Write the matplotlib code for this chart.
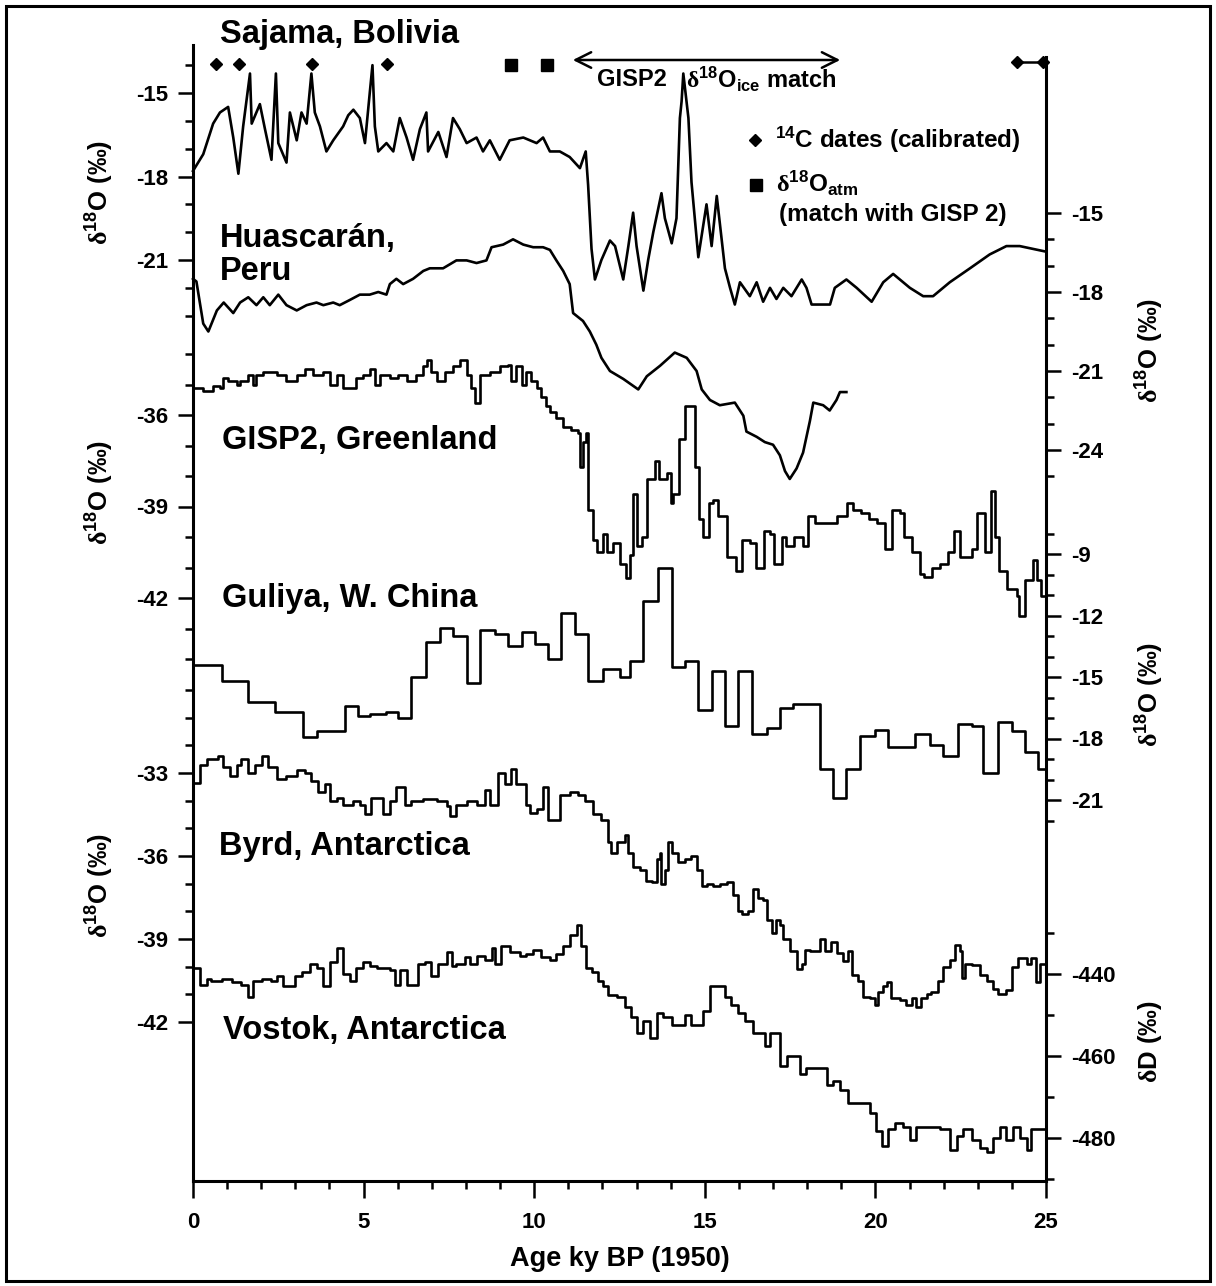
import matplotlib
matplotlib.use('Agg')
import matplotlib.pyplot as plt
import numpy as np
from matplotlib.patches import Rectangle
from matplotlib.ticker import FixedLocator

plt.rcParams['font.family'] = ['Liberation Sans', 'DejaVu Sans']
plt.rcParams['font.weight'] = 'bold'
plt.rcParams['axes.unicode_minus'] = False
plt.rcParams['mathtext.fontset'] = 'custom'
plt.rcParams['mathtext.rm'] = 'Liberation Serif'
plt.rcParams['mathtext.bf'] = 'Liberation Sans:bold'
plt.rcParams['mathtext.it'] = 'Liberation Sans:italic'
plt.rcParams['mathtext.sf'] = 'Liberation Sans:bold'

# ---- data (age ky BP, value) ----
sajama = [(0.0, -17.8), (0.30, -17.2), (0.59, -16.1), (0.79, -15.7), (1.03, -15.5), (1.18, -16.6),
          (1.33, -17.9), (1.47, -16.2), (1.67, -14.3), (1.72, -16.1), (1.96, -15.4), (2.11, -16.3),
          (2.30, -17.4), (2.43, -14.3), (2.50, -16.8), (2.74, -17.5), (2.84, -15.7), (3.04, -16.7),
          (3.18, -15.7), (3.33, -16.1), (3.47, -14.3), (3.57, -15.7), (3.72, -16.2), (3.91, -17.1),
          (4.11, -16.7), (4.40, -16.2), (4.55, -15.8), (4.70, -15.6), (4.89, -15.9), (5.04, -16.8),
          (5.18, -15.0), (5.26, -14.0), (5.33, -16.2), (5.43, -17.1), (5.67, -16.8), (5.87, -17.1),
          (6.06, -15.9), (6.26, -16.6), (6.45, -17.4), (6.65, -16.3), (6.84, -15.7), (6.89, -17.1),
          (7.19, -16.4), (7.43, -17.3), (7.62, -15.9), (7.82, -16.3), (8.02, -16.8), (8.31, -16.6),
          (8.50, -17.1), (8.70, -16.7), (8.99, -17.4), (9.28, -16.7), (9.68, -16.6), (10.07, -16.8),
          (10.26, -16.6), (10.46, -17.1), (10.75, -17.1), (11.04, -17.3), (11.34, -17.7), (11.51, -17.1),
          (11.58, -18.3), (11.68, -20.6), (11.78, -21.7), (11.97, -21.0), (12.22, -20.3), (12.37, -20.5),
          (12.61, -21.7), (12.76, -20.5), (12.90, -19.3), (13.0, -20.5), (13.2, -22.1), (13.34, -21.0),
          (13.49, -20.0), (13.73, -18.6), (13.83, -19.5), (14.03, -20.4), (14.17, -19.5), (14.27, -15.9),
          (14.32, -15.3), (14.37, -14.3), (14.52, -15.9), (14.61, -18.2), (14.81, -20.9), (15.05, -19.0),
          (15.2, -20.5), (15.35, -18.7), (15.59, -21.3), (15.74, -22.0), (15.88, -22.6), (16.03, -21.8),
          (16.32, -22.3), (16.52, -21.8), (16.71, -22.5), (16.91, -22.0), (17.1, -22.4), (17.3, -22.0),
          (17.54, -22.3), (17.84, -21.7), (17.98, -22.0), (18.13, -22.6), (18.67, -22.6), (18.81, -22.0),
          (19.15, -21.7), (19.45, -22.0), (19.89, -22.5), (20.23, -21.8), (20.52, -21.5), (21.01, -22.0),
          (21.4, -22.3), (21.69, -22.3), (22.18, -21.8), (22.77, -21.3), (23.35, -20.8), (23.84, -20.5),
          (24.23, -20.5), (25.0, -20.7)]

huascaran = [(0.0, -17.5), (0.1, -17.6), (0.3, -19.2), (0.45, -19.5), (0.7, -18.7), (0.9, -18.4),
             (1.18, -18.8), (1.38, -18.4), (1.62, -18.2), (1.86, -18.5), (2.06, -18.2), (2.25, -18.5),
             (2.5, -18.1), (2.74, -18.5), (3.04, -18.7), (3.33, -18.5), (3.62, -18.4), (3.82, -18.5),
             (4.11, -18.4), (4.3, -18.5), (4.6, -18.3), (4.89, -18.1), (5.18, -18.1), (5.43, -18.0),
             (5.67, -18.1), (5.77, -17.7), (5.96, -17.5), (6.16, -17.7), (6.45, -17.5), (6.75, -17.2),
             (6.94, -17.1), (7.33, -17.1), (7.72, -16.8), (8.02, -16.8), (8.31, -16.9), (8.6, -16.8),
             (8.75, -16.3), (9.09, -16.2), (9.38, -16.0), (9.68, -16.2), (9.97, -16.3), (10.26, -16.3),
             (10.46, -16.4), (10.65, -16.8), (10.85, -17.2), (11.04, -17.7), (11.14, -18.8), (11.43, -19.1),
             (11.63, -19.5), (11.82, -20.0), (11.97, -20.5), (12.22, -21.0), (12.61, -21.3), (13.05, -21.7),
             (13.3, -21.2), (13.69, -20.8), (14.12, -20.3), (14.47, -20.5), (14.76, -21.0), (14.91, -21.7),
             (15.15, -22.1), (15.44, -22.3), (15.88, -22.2), (16.13, -22.7), (16.22, -23.3), (16.52, -23.5),
             (16.76, -23.7), (17.0, -23.8), (17.2, -24.2), (17.35, -24.8), (17.49, -25.1), (17.69, -24.7),
             (17.88, -24.1), (18.08, -22.9), (18.18, -22.2), (18.47, -22.3), (18.66, -22.5), (18.86, -22.1),
             (18.96, -21.8), (19.15, -21.8)]

gisp2 = [(0.0, -35.1), (0.3, -35.2), (0.59, -35.05), (0.79, -35.1), (0.89, -34.8), (1.03, -34.9),
         (1.28, -35.0), (1.38, -34.9), (1.62, -34.7), (1.77, -35.0), (1.86, -34.7), (2.06, -34.6),
         (2.3, -34.6), (2.45, -34.7), (2.74, -34.9), (3.04, -34.7), (3.28, -34.5), (3.52, -34.7),
         (3.82, -34.6), (4.01, -35.0), (4.21, -34.7), (4.4, -35.1), (4.6, -35.1), (4.79, -34.8),
         (4.99, -34.7), (5.18, -34.5), (5.33, -35.0), (5.48, -34.7), (5.77, -34.8), (6.01, -34.7),
         (6.26, -34.9), (6.55, -34.7), (6.75, -34.4), (6.86, -34.2), (6.99, -34.6), (7.14, -34.9),
         (7.38, -34.6), (7.62, -34.4), (7.82, -34.2), (8.02, -34.7), (8.16, -35.1), (8.26, -35.6),
         (8.41, -34.7), (8.7, -34.6), (8.99, -34.4), (9.24, -34.35), (9.33, -34.9), (9.48, -34.4),
         (9.63, -35.0), (9.77, -34.6), (9.92, -34.9), (10.07, -35.1), (10.21, -35.4), (10.36, -35.7),
         (10.46, -35.9), (10.65, -36.1), (10.85, -36.4), (11.09, -36.5), (11.29, -36.6), (11.34, -37.7),
         (11.43, -36.9), (11.53, -36.6), (11.58, -39.1), (11.73, -40.1), (11.83, -40.5), (12.02, -39.9),
         (12.12, -40.5), (12.31, -40.2), (12.51, -40.9), (12.68, -41.35), (12.8, -40.6), (12.91, -38.6),
         (13.0, -40.3), (13.15, -40.0), (13.32, -38.1), (13.55, -37.5), (13.67, -38.1), (13.9, -37.9),
         (14.0, -38.9), (14.07, -38.6), (14.25, -36.8), (14.42, -35.7), (14.65, -35.7), (14.71, -37.7),
         (14.82, -39.4), (14.96, -40.0), (15.11, -38.9), (15.23, -38.8), (15.4, -39.3), (15.64, -40.65),
         (15.92, -41.1), (16.1, -40.1), (16.33, -40.2), (16.5, -41.0), (16.73, -39.8), (16.91, -39.9),
         (17.02, -40.9), (17.25, -40.0), (17.37, -40.3), (17.6, -40.0), (17.89, -40.3), (18.01, -39.3),
         (18.24, -39.55), (18.59, -39.55), (18.88, -39.3), (19.17, -38.9), (19.34, -39.1), (19.57, -39.2),
         (19.81, -39.4), (20.04, -39.55), (20.27, -40.4), (20.5, -39.1), (20.73, -39.2), (20.85, -40.0),
         (21.08, -40.5), (21.31, -41.2), (21.43, -41.3), (21.66, -41.0), (21.89, -40.9), (22.12, -40.5),
         (22.3, -39.8), (22.47, -40.65), (22.82, -40.4), (22.99, -39.2), (23.22, -40.5), (23.4, -38.5),
         (23.51, -40.0), (23.63, -41.1), (23.86, -41.7), (24.15, -41.95), (24.21, -42.6), (24.38, -41.4),
         (24.61, -40.75), (24.73, -41.4), (24.85, -41.95), (25.0, -41.2)]

# Guliya: (start of step, value)
guliya = [(0.0, -14.4), (0.84, -15.2), (1.62, -16.2), (2.4, -16.7), (3.23, -17.95), (3.62, -17.65),
          (4.45, -16.4), (4.84, -16.9), (5.18, -16.8), (5.67, -16.7), (6.01, -17.0), (6.4, -15.0),
          (6.84, -13.3), (7.23, -12.6), (7.62, -13.0), (8.02, -15.3), (8.41, -12.7), (8.85, -12.9),
          (9.24, -13.5), (9.63, -12.8), (10.02, -13.4), (10.41, -14.1), (10.8, -11.9), (11.19, -12.9),
          (11.58, -15.2), (12.02, -14.6), (12.51, -15.0), (12.81, -14.2), (13.2, -11.3), (13.64, -9.7),
          (14.03, -14.5), (14.42, -14.2), (14.81, -16.6), (15.2, -14.7), (15.59, -17.4), (15.98, -14.7),
          (16.37, -17.8), (16.81, -17.5), (17.2, -16.5), (17.59, -16.3), (18.37, -19.5), (18.76, -20.9),
          (19.15, -19.5), (19.54, -17.9), (19.98, -17.6), (20.37, -18.4), (21.16, -17.8), (21.6, -18.3),
          (21.99, -18.85), (22.43, -17.3), (22.82, -17.4), (23.16, -19.7), (23.6, -17.2), (23.99, -17.65),
          (24.38, -18.65), (24.77, -19.5), (25.0, -19.5)]

byrd = [(0.0, -33.35), (0.1, -33.35), (0.2, -32.7), (0.4, -32.5), (0.74, -32.4), (0.89, -32.8),
        (1.08, -33.1), (1.28, -32.7), (1.42, -32.5), (1.62, -33.0), (1.81, -32.7), (2.01, -32.4),
        (2.2, -32.8), (2.45, -33.2), (2.74, -33.1), (3.04, -32.9), (3.28, -33.0), (3.47, -33.3),
        (3.67, -33.7), (3.87, -33.4), (4.01, -34.0), (4.21, -33.9), (4.4, -34.15), (4.7, -34.0),
        (4.89, -34.15), (5.04, -34.5), (5.23, -33.9), (5.57, -34.5), (5.77, -34.0), (5.96, -33.5),
        (6.21, -34.15), (6.4, -34.0), (6.75, -33.95), (7.14, -34.0), (7.43, -34.2), (7.53, -34.55),
        (7.72, -34.15), (8.02, -34.0), (8.31, -34.15), (8.55, -33.6), (8.7, -34.15), (8.94, -33.0),
        (9.14, -33.4), (9.33, -32.85), (9.48, -33.4), (9.77, -34.15), (9.87, -34.45), (10.07, -34.3),
        (10.26, -33.5), (10.41, -34.7), (10.65, -34.7), (10.75, -33.8), (11.04, -33.7), (11.29, -33.8),
        (11.48, -34.0), (11.73, -34.5), (11.97, -34.7), (12.17, -35.5), (12.26, -35.9), (12.42, -35.5),
        (12.66, -35.25), (12.76, -35.9), (12.9, -36.4), (13.1, -36.5), (13.29, -36.9), (13.44, -36.95),
        (13.59, -36.1), (13.68, -35.9), (13.73, -37.0), (13.83, -36.5), (13.93, -35.5), (14.03, -35.9),
        (14.22, -36.2), (14.42, -36.1), (14.61, -36.0), (14.76, -36.5), (14.91, -37.1), (15.05, -37.0),
        (15.25, -37.1), (15.44, -37.0), (15.64, -36.95), (15.83, -37.4), (15.98, -38.0), (16.08, -38.1),
        (16.27, -38.0), (16.42, -37.2), (16.57, -37.5), (16.71, -37.6), (16.81, -38.3), (16.96, -38.8),
        (17.1, -38.3), (17.2, -38.5), (17.3, -39.0), (17.49, -39.45), (17.69, -40.1), (17.84, -39.9),
        (17.93, -39.4), (18.08, -39.45), (18.37, -39.0), (18.52, -39.45), (18.71, -39.1), (18.86, -39.5),
        (19.06, -39.8), (19.2, -39.45), (19.3, -40.3), (19.5, -40.5), (19.64, -41.1), (19.84, -41.15),
        (19.98, -41.4), (20.08, -40.9), (20.23, -40.7), (20.33, -40.55), (20.47, -41.15), (20.72, -41.2),
        (20.91, -41.4), (21.06, -41.15), (21.2, -41.45), (21.35, -41.15), (21.5, -41.0), (21.64, -40.9),
        (21.84, -40.5), (21.99, -40.0), (22.18, -39.75), (22.33, -39.2), (22.47, -39.45), (22.55, -40.4),
        (22.62, -39.9), (22.82, -39.95), (23.06, -40.3), (23.26, -40.5), (23.45, -40.8), (23.6, -41.0),
        (23.84, -40.85), (23.99, -40.0), (24.18, -39.7), (24.43, -39.9), (24.57, -39.7), (24.72, -40.55),
        (24.82, -39.9), (25.0, -39.75)]

# Vostok deuterium: (start of step, value)
vostok = [(0.0, -438.6), (0.2, -442.6), (0.4, -441.1), (0.54, -441.6), (0.84, -441.1), (1.13, -442.0),
          (1.42, -442.6), (1.62, -445.5), (1.77, -441.6), (2.01, -441.1), (2.3, -441.6), (2.45, -440.6),
          (2.64, -443.0), (2.99, -440.6), (3.18, -439.6), (3.43, -437.6), (3.62, -438.6), (3.82, -443.0),
          (4.01, -437.1), (4.21, -433.6), (4.4, -440.1), (4.6, -441.6), (4.79, -438.6), (4.99, -437.1),
          (5.18, -438.1), (5.38, -438.6), (5.77, -439.1), (5.92, -442.6), (6.06, -439.1), (6.26, -442.6),
          (6.6, -437.6), (6.8, -437.1), (6.99, -440.6), (7.19, -437.6), (7.43, -434.6), (7.58, -438.1),
          (7.72, -437.6), (7.97, -435.9), (8.11, -437.6), (8.31, -435.6), (8.55, -436.6), (8.75, -433.6),
          (8.85, -437.6), (9.04, -433.1), (9.28, -434.6), (9.58, -435.6), (9.77, -435.1), (9.97, -434.1),
          (10.21, -435.9), (10.46, -436.6), (10.65, -435.1), (10.85, -433.1), (11.04, -430.6), (11.24, -428.1),
          (11.38, -433.1), (11.53, -438.6), (11.68, -439.6), (11.87, -441.6), (12.02, -443.0), (12.17, -445.0),
          (12.42, -445.5), (12.66, -448.0), (12.85, -450.5), (13.0, -454.5), (13.2, -451.5), (13.39, -455.5),
          (13.59, -449.5), (13.78, -450.5), (14.03, -452.5), (14.42, -450.0), (14.61, -452.5), (14.95, -449.0),
          (15.15, -443.0), (15.59, -445.5), (15.78, -447.5), (15.98, -449.5), (16.17, -451.5), (16.42, -454.5),
          (16.76, -457.5), (16.91, -454.5), (17.2, -462.5), (17.4, -460.0), (17.79, -464.5), (17.98, -463.0),
          (18.57, -467.0), (18.76, -466.0), (18.96, -468.4), (19.2, -471.4), (19.84, -473.9), (20.03, -478.4),
          (20.18, -481.9), (20.37, -477.9), (20.57, -476.4), (20.81, -477.4), (21.01, -480.4), (21.2, -477.4),
          (21.89, -477.9), (22.18, -482.9), (22.38, -479.4), (22.57, -477.9), (22.82, -480.4), (23.06, -482.4),
          (23.26, -483.4), (23.45, -479.9), (23.65, -477.4), (23.84, -480.4), (24.04, -477.4), (24.23, -479.9),
          (24.43, -482.9), (24.57, -477.9), (25.0, -477.9)]

c14_dates = [0.67, 1.35, 3.49, 5.69]
c14_range = [24.15, 24.92]
atm_match = [9.32, 10.37]
gisp2_match = [11.05, 19.05]

# ---- layout (pixel geometry of the original) ----
W, H = 1216, 1286
TOP, BOT = 12, 1181
LEFT, RIGHT = 193, 1046
LW = 1.9

fig = plt.figure(figsize=(W / 100, H / 100), dpi=100)
rect = [LEFT / W, 1 - BOT / H, (RIGHT - LEFT) / W, (BOT - TOP) / H]


def kx(px):
    return (px - LEFT) / (RIGHT - LEFT) * 25


def fxy(px, py):
    return px / W, 1 - py / H


ax = fig.add_axes(rect, label='main')
ax.set_xlim(0, 25)
ax.set_ylim(BOT, TOP)
ax.yaxis.set_visible(False)
ax.spines['top'].set_visible(False)
for s in ('left', 'right', 'bottom'):
    ax.spines[s].set_linewidth(2.2)
ax.spines['left'].set_bounds(45, BOT)
ax.spines['right'].set_bounds(57, BOT)
ax.set_xticks([0, 5, 10, 15, 20, 25])
ax.xaxis.set_minor_locator(FixedLocator(np.arange(0, 26, 1)))
ax.tick_params(axis='x', which='major', direction='out', length=12, width=1.8, labelsize=16, pad=10)
ax.tick_params(axis='x', which='minor', direction='out', length=6, width=1.8)
ax.set_xlabel('Age ky BP (1950)', fontsize=19.5, fontweight='bold', labelpad=10)


def overlay(name, side, va, pa, vb, pb, major, minor):
    o = fig.add_axes(rect, label=name)
    o.patch.set_visible(False)
    for s in o.spines.values():
        s.set_visible(False)
    o.xaxis.set_visible(False)
    o.set_xlim(0, 25)
    slope = (vb - va) / (pb - pa)
    o.set_ylim(va + (BOT - pa) * slope, va + (TOP - pa) * slope)
    if side == 'left':
        o.yaxis.tick_left()
    else:
        o.yaxis.tick_right()
    o.yaxis.set_major_locator(FixedLocator(major))
    o.yaxis.set_minor_locator(FixedLocator(minor))
    o.tick_params(which='major', direction='out', length=11, width=1.8, labelsize=16, pad=7)
    o.tick_params(which='minor', direction='out', length=6, width=1.8)
    return o


ax_saj = overlay('saj', 'left', -15, 93, -21, 260, [-15, -18, -21], np.arange(-23, -13))
ax_hua = overlay('hua', 'right', -15, 213, -24, 450, [-15, -18, -21, -24], np.arange(-25, -14))
ax_gis = overlay('gis', 'left', -36, 415, -42, 598, [-36, -39, -42], np.arange(-45, -33))
ax_gul = overlay('gul', 'right', -9, 554, -21, 800, [-9, -12, -15, -18, -21], np.arange(-22, -7))
ax_byr = overlay('byr', 'left', -33, 773, -42, 1022, [-33, -36, -39, -42], np.arange(-42, -30))
ax_vos = overlay('vos', 'right', -440, 974, -480, 1138, [-440, -460, -480], np.arange(-490, -429, 10))

for o, data, style in ((ax_saj, sajama, 'default'), (ax_hua, huascaran, 'default'),
                       (ax_gis, gisp2, 'steps-post'), (ax_byr, byrd, 'steps-post'),
                       (ax_gul, guliya, 'steps-post'), (ax_vos, vostok, 'steps-post')):
    age, val = zip(*data)
    o.plot(age, val, color='black', lw=LW, drawstyle=style, clip_on=False)

# dating markers along the top
ax.plot(c14_dates, [64] * len(c14_dates), 'kD', ms=6.5)
ax.plot(c14_range, [62, 62], 'k-', lw=1.8, marker='D', ms=6.5, clip_on=False)
ax.plot(atm_match, [65] * len(atm_match), 'ks', ms=9)
ax.annotate('', xy=(gisp2_match[1], 60), xytext=(gisp2_match[0], 60),
            arrowprops=dict(arrowstyle='<->', lw=1.8, color='black', mutation_scale=28))
ax.text(kx(597), 79, 'GISP2', fontsize=17, va='center', ha='left')
ax.text(kx(686), 79, r'$\mathrm{\delta}^{\mathbf{18}}$O$_{\mathbf{ice}}$ match', fontsize=17,
        va='center', ha='left')

# legend
ax.plot([kx(755)], [140], 'kD', ms=6.5)
ax.text(kx(775), 140, r'$^{\mathbf{14}}$C dates (calibrated)', fontsize=17.5, va='center', ha='left')
ax.plot([kx(756)], [185], 'ks', ms=9)
ax.text(kx(776), 183, r'$\mathrm{\delta}^{\mathbf{18}}$O$_{\mathbf{atm}}$', fontsize=17.5, va='center', ha='left')
ax.text(kx(779), 214, '(match with GISP 2)', fontsize=17.5, va='center', ha='left')

# core names
names = [('Sajama, Bolivia', 220, 35), ('Huascarán,', 220, 239), ('Peru', 220, 271),
         ('GISP2, Greenland', 222, 440), ('Guliya, W. China', 222, 599),
         ('Byrd, Antarctica', 219, 847), ('Vostok, Antarctica', 223, 1030)]
for txt, px, py in names:
    ax.text(kx(px), py, txt, fontsize=23.5, fontweight='bold', va='center', ha='left')

# axis titles
d18 = r'$\mathrm{\delta}^{\mathbf{18}}$O (‰)'
for px, py, txt in ((100, 192, d18), (100, 492, d18), (100, 885, d18),
                    (1150, 350, d18), (1150, 694, d18), (1150, 1042, r'$\mathrm{\delta}$D (‰)')):
    x, y = fxy(px, py)
    fig.text(x, y, txt, rotation=90, ha='center', va='center', fontsize=18.5)

# frame round the whole figure
fig.patches.append(Rectangle(fxy(6, 1281), (1210 - 6) / W, (1281 - 6) / H, transform=fig.transFigure,
                             fill=False, lw=2.2, ec='black'))

fig.savefig('out.png', dpi=100)
